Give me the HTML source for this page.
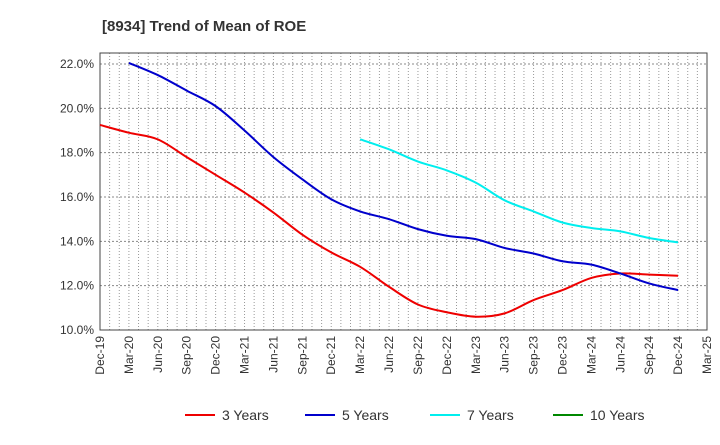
<!DOCTYPE html>
<html><head><meta charset="utf-8"><style>
body{margin:0;background:#fff;font-family:"Liberation Sans",sans-serif;}
svg text{font-family:"Liberation Sans",sans-serif;}
</style></head><body>
<svg id="c" width="720" height="440" xmlns="http://www.w3.org/2000/svg">
<text x="102" y="31" font-size="15" font-weight="bold" fill="#333">[8934]  Trend of Mean of ROE</text>
<g id="grid"></g><g id="axes"></g><g id="series"></g><g id="legend"></g>
</svg>
<script>
const xLabels=["Dec-19","Mar-20","Jun-20","Sep-20","Dec-20","Mar-21","Jun-21","Sep-21","Dec-21","Mar-22","Jun-22","Sep-22","Dec-22","Mar-23","Jun-23","Sep-23","Dec-23","Mar-24","Jun-24","Sep-24","Dec-24","Mar-25"];
const yTicks=[10,12,14,16,18,20,22];
const s3=[19.25,18.9,18.6,17.8,17.0,16.2,15.3,14.3,13.5,12.85,11.95,11.15,10.8,10.6,10.75,11.35,11.8,12.35,12.55,12.5,12.45];
const s5=[null,22.05,21.5,20.8,20.1,19.0,17.8,16.8,15.9,15.35,15.0,14.55,14.25,14.1,13.7,13.45,13.1,12.95,12.55,12.1,11.8];
const s7=[null,null,null,null,null,null,null,null,null,18.6,18.15,17.6,17.2,16.65,15.85,15.35,14.85,14.6,14.45,14.15,13.95];
const s10=[];
const L=100,R=707,T=53,B=330;
const X=i=>L+i*(R-L)/21;
const Y=v=>B-(v-10)*(B-64)/12;
const ns="http://www.w3.org/2000/svg";
function mk(p,t,a){const e=document.createElementNS(ns,t);for(const k in a)e.setAttribute(k,a[k]);p.appendChild(e);return e;}
const g=document.getElementById('grid'),ax=document.getElementById('axes'),se=document.getElementById('series'),lg=document.getElementById('legend');
for(let m=1;m<63;m++){const x=L+m*(R-L)/63;const l=mk(g,'line',{x1:x,x2:x,y1:T,y2:B,stroke:'#999','stroke-width':1,'stroke-dasharray':'1,2'});

}
yTicks.forEach(v=>{const l=mk(g,'line',{x1:L,x2:R,y1:Y(v),y2:Y(v),stroke:'#888','stroke-width':1,'stroke-dasharray':'2,2'});


const t=mk(ax,'text',{x:L-6,y:Y(v)+4,'text-anchor':'end','font-size':12,fill:'#333'});t.textContent=v.toFixed(1)+'%';

});
const fr=mk(ax,'rect',{x:L,y:T,width:R-L,height:B-T,fill:'none',stroke:'#444','stroke-width':1});


xLabels.forEach((s,i)=>{const t=mk(ax,'text',{transform:`translate(${X(i)+4},${B+6}) rotate(-90)`,'text-anchor':'end','font-size':12,fill:'#333'});t.textContent=s;

});
function path(arr){const p=[];arr.forEach((v,i)=>{if(v!=null)p.push([X(i),Y(v)]);});if(p.length<2)return '';
let d=`M${p[0][0]},${p[0][1]}`;for(let i=0;i<p.length-1;i++){const p0=p[i-1]||p[i],p1=p[i],p2=p[i+1],p3=p[i+2]||p2;
d+=` C${p1[0]+(p2[0]-p0[0])/6},${p1[1]+(p2[1]-p0[1])/6} ${p2[0]-(p3[0]-p1[0])/6},${p2[1]-(p3[1]-p1[1])/6} ${p2[0]},${p2[1]}`;}return d;}
const series=[[s3,'#ee0000','3 Years',185],[s5,'#0000cc','5 Years',305],[s7,'#00eeee','7 Years',430],[s10,'#008800','10 Years',553]];
series.forEach(([a,c,n,lx])=>{const d=path(a);if(d){const p=mk(se,'path',{d,fill:'none',stroke:c,'stroke-width':2});

}
const l=mk(lg,'line',{x1:lx,x2:lx+30,y1:415,y2:415,stroke:c,'stroke-width':2});


const t=mk(lg,'text',{x:lx+37,y:420,'font-size':14,fill:'#333'});t.textContent=n;

});
</script>
</body></html>
